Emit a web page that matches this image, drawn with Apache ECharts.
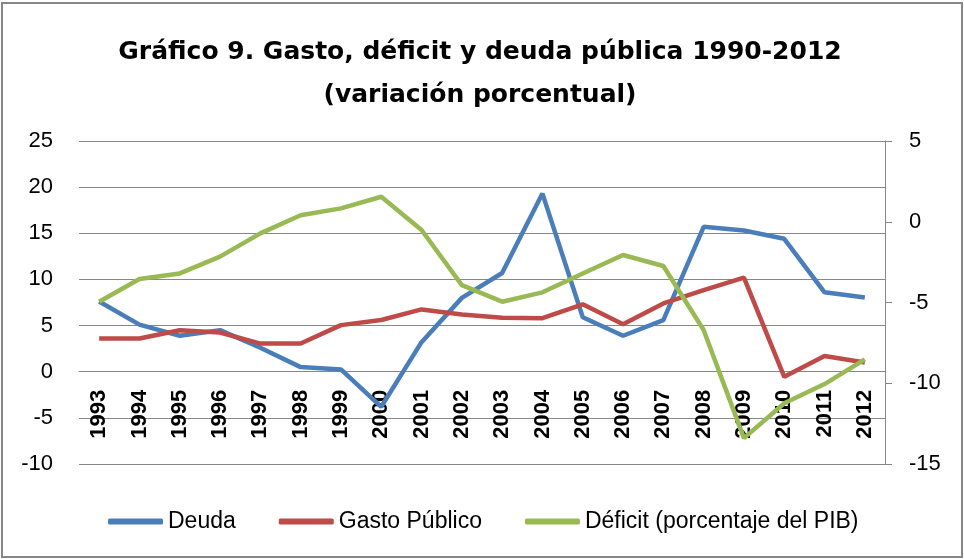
<!DOCTYPE html>
<html>
<head>
<meta charset="utf-8">
<script src="https://cdn.jsdelivr.net/npm/echarts@6/dist/echarts.min.js"></script>
<style>
  body { margin: 0; background: #fff; }
  #chart-container { position: absolute; left: 0; top: 0; width: 964px; height: 559px; }
  #frame {
    position: absolute; left: 1px; top: 2px; width: 962px; height: 556px;
    box-sizing: border-box; border: 2px solid #878787; pointer-events: none;
  }
</style>
</head>
<body>
<div id="chart-container"></div>
<div id="frame"></div>
<script>
const years = ["1993", "1994", "1995", "1996", "1997", "1998", "1999", "2000", "2001", "2002",
  "2003", "2004", "2005", "2006", "2007", "2008", "2009", "2010", "2011", "2012"];

// left axis (variación %)
const deuda = [7.6, 5.1, 3.9, 4.5, 2.6, 0.5, 0.25, -3.8, 3.2, 8.0,
  10.7, 19.3, 5.9, 3.9, 5.6, 15.7, 15.3, 14.4, 8.6, 8.05];
const gastoPublico = [3.6, 3.6, 4.5, 4.25, 3.05, 3.05, 5.05, 5.6, 6.75, 6.2,
  5.85, 5.8, 7.3, 5.15, 7.4, 8.85, 10.2, -0.55, 1.7, 1.0];

// right axis (porcentaje del PIB)
const deficit = [-4.95, -3.55, -3.2, -2.16, -0.72, 0.4, 0.83, 1.55, -0.51, -3.92,
  -4.95, -4.37, -3.2, -2.06, -2.74, -6.7, -13.4, -11.24, -10.05, -8.52];

const leftTicks = { min: -10, max: 25, interval: 5 };
const rightTicks = { min: -15, max: 5, interval: 5 };

const gridColor = "#878787";
const baseFont = "'Liberation Sans', Arial, sans-serif";

const gridTop = 141;
const gridBottom = 95;
const plotHeight = 559 - gridTop - gridBottom;
// category axis sits where the left axis crosses 0 (offset up from the bottom edge)
const zeroOffset = -plotHeight * (0 - leftTicks.min) / (leftTicks.max - leftTicks.min);

const chart = echarts.init(document.getElementById("chart-container"));

const option = {
  animation: false,
  backgroundColor: "#fff",
  title: {
    text: "Gráfico 9. Gasto, déficit y deuda pública 1990-2012\n(variación porcentual)",
    left: 475,
    top: 26,
    textAlign: "center",
    textStyle: {
      fontFamily: "'DejaVu Sans', sans-serif",
      fontWeight: "bold",
      fontSize: 25,
      lineHeight: 43,
      color: "#000",
    },
  },
  legend: {
    left: 103,
    top: 505,
    icon: "roundRect",
    itemWidth: 55,
    itemHeight: 6,
    itemGap: 43,
    textStyle: { fontFamily: baseFont, fontSize: 23, color: "#000" },
    data: ["Deuda", "Gasto Público", "Déficit (porcentaje del PIB)"],
  },
  grid: {
    left: 79,
    right: 79,
    top: gridTop,
    bottom: gridBottom,
    outerBoundsMode: "none",
    containLabel: false,
  },
  xAxis: {
    type: "category",
    data: years,
    boundaryGap: true,
    offset: zeroOffset,
    axisLine: {
      show: true,
      onZero: false,
      lineStyle: { color: gridColor, width: 1 },
    },
    axisTick: { show: false },
    axisLabel: {
      rotate: 90,
      margin: 18,
      interval: 0,
      fontFamily: baseFont,
      fontWeight: "bold",
      fontSize: 22,
      color: "#000",
    },
  },
  yAxis: [
    {
      type: "value",
      min: leftTicks.min,
      max: leftTicks.max,
      interval: leftTicks.interval,
      axisLine: { show: false },
      axisTick: { show: false },
      splitLine: { show: true, lineStyle: { color: gridColor, width: 1 } },
      axisLabel: { margin: 26, fontFamily: baseFont, fontSize: 22, color: "#000" },
    },
    {
      type: "value",
      position: "right",
      min: rightTicks.min,
      max: rightTicks.max,
      interval: rightTicks.interval,
      axisLine: { show: true, lineStyle: { color: gridColor, width: 1 } },
      axisTick: { show: true, inside: false, length: 7, lineStyle: { color: gridColor } },
      splitLine: { show: false },
      axisLabel: { margin: 24, fontFamily: baseFont, fontSize: 22, color: "#000" },
    },
  ],
  series: [
    {
      name: "Deuda",
      type: "line",
      data: deuda,
      yAxisIndex: 0,
      symbol: "none",
      color: "#4A7EBB",
      lineStyle: { width: 4.5 },
    },
    {
      name: "Gasto Público",
      type: "line",
      data: gastoPublico,
      yAxisIndex: 0,
      symbol: "none",
      color: "#BE4B48",
      lineStyle: { width: 4.5 },
    },
    {
      name: "Déficit (porcentaje del PIB)",
      type: "line",
      data: deficit,
      yAxisIndex: 1,
      symbol: "none",
      color: "#98B954",
      lineStyle: { width: 4.5 },
    },
  ],
};

chart.setOption(option);
</script>
</body>
</html>
